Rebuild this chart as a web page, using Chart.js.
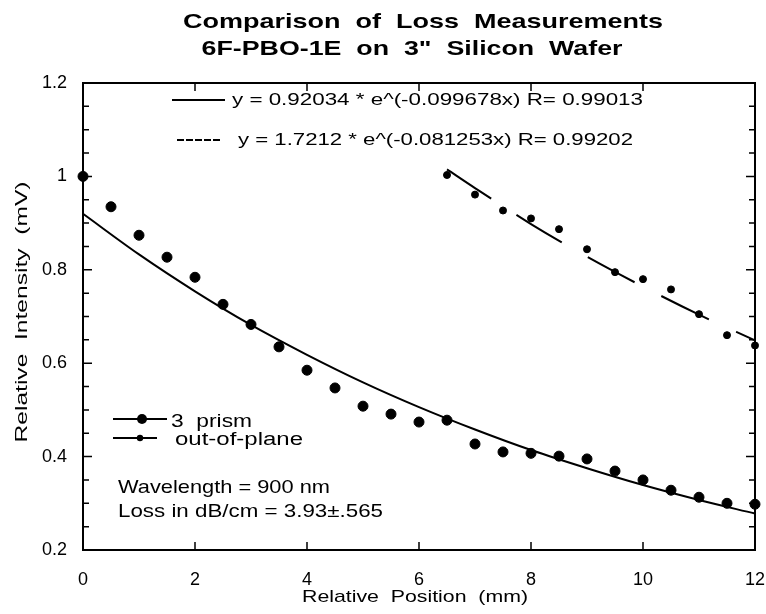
<!DOCTYPE html>
<html>
<head>
<meta charset="utf-8">
<script src="https://cdn.jsdelivr.net/npm/chart.js@4.4.1/dist/chart.umd.min.js"></script>
<style>
  html, body { margin: 0; padding: 0; background: #fff; }
</style>
</head>
<body>
<canvas id="lossChart" width="766" height="614"></canvas>
<script>
// Chart text
const titleLines = ['Comparison  of  Loss  Measurements', '6F-PBO-1E  on  3"  Silicon  Wafer'];
const xTitle = 'Relative  Position  (mm)';
const yTitle = 'Relative  Intensity  (mV)';
const fitLabels = [
    'y = 0.92034 * e^(-0.099678x) R= 0.99013',
    'y = 1.7212 * e^(-0.081253x) R= 0.99202'
];
const seriesLabels = ['3  prism', 'out-of-plane'];
const noteLines = ['Wavelength = 900 nm', 'Loss in dB/cm = 3.93\u00b1.565'];

// Tick labels
const xTicks = [0, 2, 4, 6, 8, 10, 12];
const yTicks = [0.2, 0.4, 0.6, 0.8, 1, 1.2];

// 3 prism measurements
const prismX = [0, 0.5, 1, 1.5, 2, 2.5, 3, 3.5, 4, 4.5, 5, 5.5, 6, 6.5, 7, 7.5, 8, 8.5, 9, 9.5, 10, 10.5, 11, 11.5, 12];
const prismY = [1.0, 0.935, 0.874, 0.827, 0.784, 0.726, 0.683, 0.635, 0.585, 0.547, 0.508, 0.491, 0.474, 0.478, 0.427, 0.41, 0.407, 0.401, 0.395, 0.369, 0.35, 0.328, 0.313, 0.30, 0.298];

// out-of-plane measurements
const outX = [6.5, 7, 7.5, 8, 8.5, 9, 9.5, 10, 10.5, 11, 11.5, 12];
const outY = [1.003, 0.961, 0.927, 0.91, 0.887, 0.844, 0.795, 0.78, 0.758, 0.705, 0.66, 0.638];

// fit curves
const fit1X = [0, 1, 2, 3, 4, 5, 6, 7, 8, 9, 10, 11, 12];
const fit1Y = [0.920, 0.833, 0.754, 0.682, 0.618, 0.559, 0.506, 0.458, 0.414, 0.375, 0.339, 0.307, 0.278];
const fit2X = [6.5, 7, 8, 9, 10, 11, 12];
const fit2Y = [1.015, 0.975, 0.898, 0.828, 0.764, 0.704, 0.649];

const FONT = '"Liberation Sans", Arial, sans-serif';

function toPoints(xs, ys) {
    return xs.map((x, i) => ({ x: x, y: ys[i] }));
}

// draw text squeezed/stretched to a given width
function fitText(ctx, text, x, y, width, font, align) {
    ctx.save();
    ctx.font = font;
    ctx.textAlign = 'left';
    ctx.textBaseline = 'alphabetic';
    const w0 = ctx.measureText(text).width;
    const s = width / w0;
    ctx.translate(x, y);
    ctx.scale(s, 1);
    ctx.fillText(text, align === 'center' ? -w0 / 2 : 0, 0);
    ctx.restore();
}

// frame, inward ticks, titles and the two legends
const overlayPlugin = {
    id: 'overlay',
    afterDraw(chart) {
        const ctx = chart.ctx;
        const a = chart.chartArea;
        const xs = chart.scales.x;
        const ys = chart.scales.y;
        ctx.save();
        ctx.strokeStyle = '#000';
        ctx.fillStyle = '#000';
        ctx.lineWidth = 2;
        ctx.strokeRect(a.left, a.top, a.right - a.left, a.bottom - a.top);

        ctx.lineWidth = 1.5;
        ctx.beginPath();
        xTicks.forEach(v => {
            const px = xs.getPixelForValue(v);
            ctx.moveTo(px, a.bottom); ctx.lineTo(px, a.bottom - 8);
            ctx.moveTo(px, a.top); ctx.lineTo(px, a.top + 8);
        });
        for (let k = 0; k <= 20; k++) {
            const v = 0.2 + k * 0.05;
            const py = ys.getPixelForValue(v);
            const len = k % 4 === 0 ? 9 : 6;
            ctx.moveTo(a.left, py); ctx.lineTo(a.left + len, py);
            ctx.moveTo(a.right, py); ctx.lineTo(a.right - len, py);
        }
        ctx.stroke();

        // titles
        fitText(ctx, titleLines[0], 423, 28, 480, 'bold 21px ' + FONT, 'center');
        fitText(ctx, titleLines[1], 412, 55, 421, 'bold 21px ' + FONT, 'center');
        fitText(ctx, xTitle, 415, 602, 226, '17px ' + FONT, 'center');
        ctx.save();
        ctx.translate(27, 312);
        ctx.rotate(-Math.PI / 2);
        fitText(ctx, yTitle, 0, 0, 261, '17px ' + FONT, 'center');
        ctx.restore();

        // fit legend
        ctx.lineWidth = 2;
        ctx.beginPath();
        ctx.moveTo(172, 100); ctx.lineTo(225, 100);
        ctx.stroke();
        ctx.setLineDash([7, 2]);
        ctx.beginPath();
        ctx.moveTo(177, 140); ctx.lineTo(222, 140);
        ctx.stroke();
        ctx.setLineDash([]);
        fitText(ctx, fitLabels[0], 232, 105, 411, '17px ' + FONT, 'left');
        fitText(ctx, fitLabels[1], 238, 145, 395, '17px ' + FONT, 'left');

        // series legend
        ctx.beginPath();
        ctx.moveTo(113, 419); ctx.lineTo(167, 419);
        ctx.moveTo(113, 438); ctx.lineTo(157, 438);
        ctx.stroke();
        ctx.beginPath(); ctx.arc(142, 419, 5, 0, Math.PI * 2); ctx.fill();
        ctx.beginPath(); ctx.arc(140, 438, 3.2, 0, Math.PI * 2); ctx.fill();
        fitText(ctx, seriesLabels[0], 171, 427, 81, '18px ' + FONT, 'left');
        fitText(ctx, seriesLabels[1], 175, 445, 128, '18px ' + FONT, 'left');
        fitText(ctx, noteLines[0], 118, 493, 212, '19px ' + FONT, 'left');
        fitText(ctx, noteLines[1], 118, 517, 265, '19px ' + FONT, 'left');
        ctx.restore();
    }
};

const ctx = document.getElementById('lossChart').getContext('2d');
new Chart(ctx, {
    type: 'scatter',
    data: {
        datasets: [
            {
                label: fitLabels[0],
                data: toPoints(fit1X, fit1Y),
                showLine: true,
                borderColor: '#000',
                borderWidth: 2,
                pointRadius: 0,
                cubicInterpolationMode: 'monotone',
                clip: false
            },
            {
                label: fitLabels[1],
                data: toPoints(fit2X, fit2Y),
                showLine: true,
                borderColor: '#000',
                borderWidth: 2,
                borderDash: [53, 30],
                pointRadius: 0,
                cubicInterpolationMode: 'monotone',
                clip: false
            },
            {
                label: seriesLabels[0],
                data: toPoints(prismX, prismY),
                showLine: false,
                backgroundColor: '#000',
                borderColor: '#000',
                pointRadius: 5,
                clip: false
            },
            {
                label: seriesLabels[1],
                data: toPoints(outX, outY),
                showLine: false,
                backgroundColor: '#000',
                borderColor: '#000',
                pointRadius: 3.5,
                clip: false
            }
        ]
    },
    options: {
        responsive: false,
        animation: false,
        layout: { padding: { top: 83, right: 11, left: 0, bottom: 0 } },
        plugins: {
            legend: { display: false },
            title: { display: false },
            tooltip: { enabled: false }
        },
        scales: {
            x: {
                type: 'linear',
                min: 0,
                max: 12,
                afterBuildTicks: scale => { scale.ticks = xTicks.map(v => ({ value: v })); },
                afterFit: scale => {
                    scale.height = 64;
                    scale.paddingLeft = 0;
                    scale.paddingRight = 0;
                },
                grid: { display: false, drawTicks: false },
                border: { display: false },
                ticks: {
                    padding: 19,
                    color: '#000',
                    font: { family: FONT, size: 18 },
                    callback: v => String(v)
                }
            },
            y: {
                type: 'linear',
                min: 0.2,
                max: 1.2,
                afterBuildTicks: scale => { scale.ticks = yTicks.map(v => ({ value: v })); },
                afterFit: scale => {
                    scale.width = 83;
                    scale.paddingTop = 0;
                    scale.paddingBottom = 0;
                },
                grid: { display: false, drawTicks: false },
                border: { display: false },
                ticks: {
                    padding: 16,
                    color: '#000',
                    font: { family: FONT, size: 18 },
                    callback: v => String(+v.toFixed(1))
                }
            }
        }
    },
    plugins: [overlayPlugin]
});
</script>
</body>
</html>
